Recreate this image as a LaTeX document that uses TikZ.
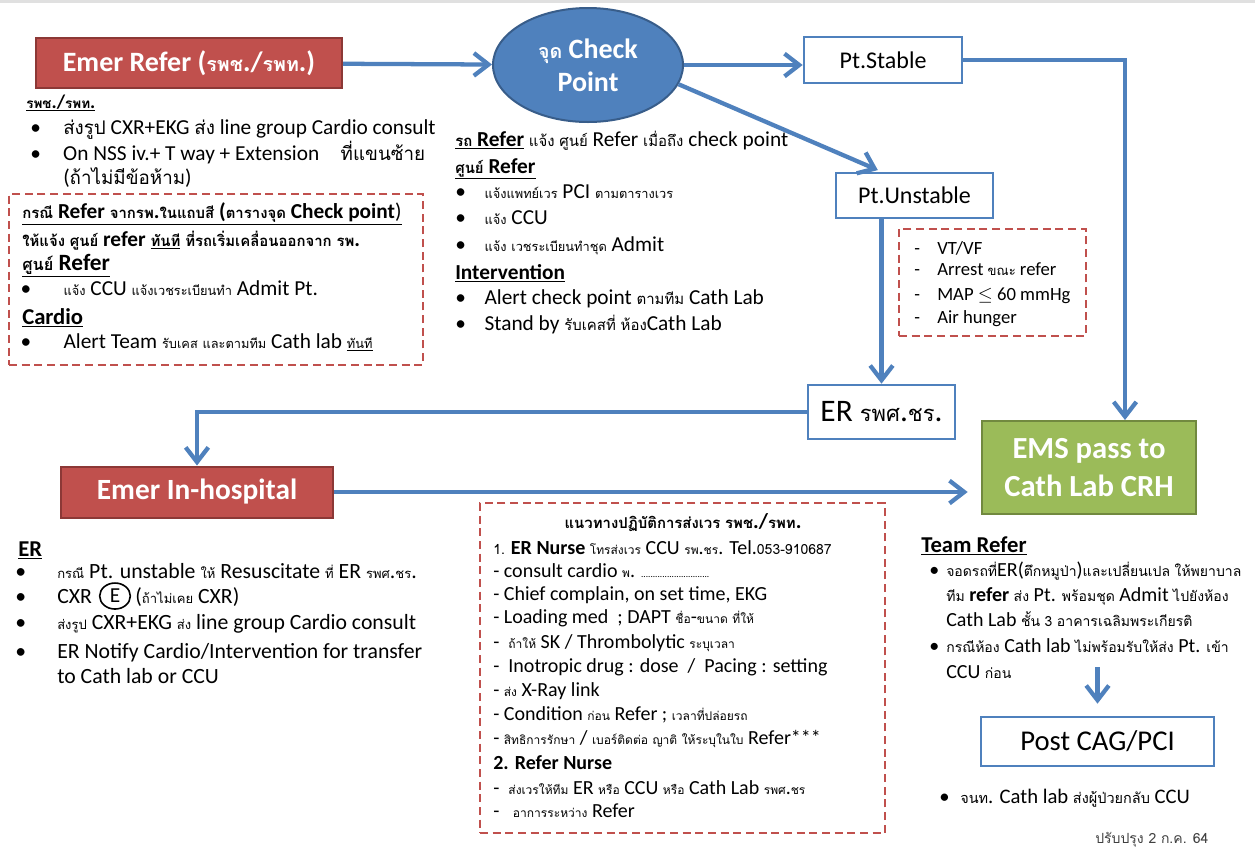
\documentclass[tikz,border=0pt]{standalone}
\usepackage{fontspec}
\setmainfont{Carlito}
\newfontfamily\thaifont[Script=Thai,Scale=0.7]{Loma}
\newfontfamily\thaismall[Script=Thai,Scale=0.6]{Loma}
\newfontfamily\thaibig[Script=Thai,Scale=0.88]{Loma}
\usetikzlibrary{arrows.meta,positioning,shapes.geometric}

\definecolor{accblue}{HTML}{4F81BD}
\definecolor{accbluedk}{HTML}{385D8A}
\definecolor{accred}{HTML}{C0504D}
\definecolor{accreddk}{HTML}{8C3836}
\definecolor{accgreen}{HTML}{9BBB59}
\definecolor{accgreendk}{HTML}{71893F}

% Thai letters switch to Loma by themselves
\let\thaicur\thaifont
\newcommand\usethai[1]{\let\thaicur#1}
\XeTeXinterchartokenstate=1
\newXeTeXintercharclass\thaichars
\newcount\thaicnt
\thaicnt="0E00
\loop\ifnum\thaicnt<"0E80
  \XeTeXcharclass\thaicnt=\thaichars
  \advance\thaicnt by 1
\repeat
\XeTeXinterchartoks 0 \thaichars = {\begingroup\thaicur}
\XeTeXinterchartoks 4095 \thaichars = {\begingroup\thaicur}
\XeTeXinterchartoks \thaichars 0 = {\endgroup}
\XeTeXinterchartoks \thaichars 4095 = {\endgroup}

\newcommand\setfs[2]{\fontsize{#1}{#2}\selectfont\lineskiplimit=-30pt}
\newcommand\bul[1][24.75pt]{\makebox[#1][l]{\textbullet}}
\newcommand\dsh[1][17.25pt]{\makebox[#1][l]{-}}

\begin{document}
\begin{tikzpicture}[x=0.75pt, y=-0.75pt,
    flow/.style={draw=accblue, line width=3.2pt, -{Straight Barb[length=11pt,width=17pt]}},
    redbox/.style={draw=accreddk, fill=accred, line width=1.5pt, text=white, inner sep=0pt, font=\bfseries\setfs{21}{25}},
    greenbox/.style={draw=accgreendk, fill=accgreen, line width=1.5pt, text=white, inner sep=0pt, align=center, font=\bfseries\setfs{23}{29}},
    whitebox/.style={draw=accblue, fill=white, line width=2pt, inner sep=0pt, font=\setfs{18}{20}},
    checkpt/.style={ellipse, draw=accbluedk, fill=accblue, line width=1.5pt, text=white, inner sep=0pt, align=center, font=\bfseries\setfs{21}{24.75}},
    notebox/.style={draw=accred, line width=1.5pt, dash pattern=on 6pt off 3.5pt, inner sep=0pt},
    txt/.style={anchor=base west, align=left, inner sep=0pt, font=\setfs{16}{18.75}}]

    \useasboundingbox[fill=white] (0,0) rectangle (1255,854);
    \fill[black!12] (0,0) rectangle (1255,3);

    % main boxes
    \node[redbox, minimum width=229.5pt, minimum height=37.5pt] (refer) at (189,63) {Emer Refer (รพช./รพท.)};
    \node[checkpt, minimum width=142.5pt, minimum height=85.5pt] (check) at (588,65) {จุด Check\\Point};
    \node[whitebox, minimum width=118.5pt, minimum height=34.5pt] (stable) at (883,60) {Pt.Stable};
    \node[whitebox, minimum width=117.75pt, minimum height=33.75pt] (unstable) at (914.5,195.5) {Pt.Unstable};
    \node[whitebox, minimum width=110.25pt, minimum height=40.5pt, font=\setfs{23.5}{26}] (er) at (881.5,412) {ER รพศ.ชร.};
    \node[greenbox, minimum width=160.5pt, minimum height=69.75pt] (ems) at (1089,467.5) {EMS pass to\\Cath Lab CRH};
    \node[redbox, minimum width=204pt, minimum height=38.25pt, font=\bfseries\setfs{22}{24}] (inhosp) at (197,492) {Emer In-hospital};
    \node[whitebox, minimum width=174.75pt, minimum height=36.75pt, font=\setfs{21.5}{24}] (post) at (1097.5,741.5) {Post CAG/PCI};

    % dashed frames
    \node[notebox, minimum width=310.5pt, minimum height=128.25pt] (referbox) at (216,279.5) {};
    \node[notebox, minimum width=140.25pt, minimum height=80.25pt] (signbox) at (992.5,282.5) {};
    \node[notebox, minimum width=303.75pt, minimum height=247.5pt] (guidebox) at (682.5,668) {};

    % connectors
    \draw[flow] (refer) -- (check);
    \draw[flow] (check.east) -- (check.east -| stable.west);
    \draw[flow, shorten >=3pt] (check.-12) -- (unstable.north -| er.north);
    \draw[flow] (unstable.south -| er.north) -- (er.north);
    \draw[flow] (stable.east) -| ([xshift=27pt]ems.north);
    \draw[flow] (er.west) -| (inhosp.north);
    \draw[flow, shorten >=10pt] (inhosp.east) -- (inhosp.east -| ems.west);
    \coordinate (teamend) at (1097.5,667);
    \draw[flow, shorten >=9pt] (teamend) -- (teamend |- post.north);

    % texts round Emer Refer (multi-line nodes sit on their last baseline)
    \node[txt, font=\setfs{14.5}{15}] (rpshead) at (26,108) {\underline{\textbf{รพช./รพท.}}};
    \node[txt, font=\setfs{16}{19.5}\usethai\thaibig] (rpslist) at (30,184) {\bul ส่งรูป CXR+EKG ส่ง line group Cardio consult\\
        \bul On NSS iv.+ T way + Extension\quad ที่แขนซ้าย\\[-1.5pt]
        \hspace*{24.75pt}(ถ้าไม่มีข้อห้าม)};
    \node[txt] (refernote) at (22,348) {\underline{\textbf{กรณี Refer จากรพ.ในแถบสี (ตารางจุด Check point})}\\[2.25pt]
        \textbf{ให้แจ้ง ศูนย์ refer \underline{ทันที} ที่รถเริ่มเคลื่อนออกจาก รพ.}\\[-0.75pt]
        {\setfs{17.5}{18.75}\underline{\textbf{ศูนย์ Refer}}}\\
        \hspace*{-1.25pt}\bul[32.25pt]\usethai\thaismall แจ้ง CCU แจ้งเวชระเบียนทำ Admit Pt.\\[3pt]
        {\setfs{17}{18.75}\underline{\textbf{Cardio}}}\\[-0.75pt]
        \hspace*{-1.25pt}\bul[32.25pt]\usethai\thaismall Alert Team รับเคส และตามทีม Cath lab \underline{ทันที}};

    % texts under Check Point
    \node[txt, font=\setfs{16}{19.5}] (checknote) at (455,330) {\underline{\textbf{รถ Refer}} แจ้ง ศูนย์ Refer เมื่อถึง check point\\[0.75pt]
        \underline{\textbf{ศูนย์ Refer}}\\[-0.75pt]
        \bul[22pt]\usethai\thaismall แจ้งแพทย์เวร PCI ตามตารางเวร\\
        \bul[22pt]\usethai\thaismall แจ้ง CCU\\[0.75pt]
        \bul[22pt]\usethai\thaismall แจ้ง เวชระเบียนทำชุด Admit\\[1.5pt]
        \underline{\textbf{Intervention}}\\[-0.75pt]
        \bul[22pt]Alert check point ตามทีม Cath Lab\\
        \bul[22pt]Stand by รับเคสที่ ห้องCath Lab};

    \node[txt, font=\setfs{14}{17.25}] (signs) at (914,323) {\dsh VT/VF\\[-1.5pt] \dsh Arrest ขณะ refer\\[1.5pt] \dsh MAP $\leq$ 60 mmHg\\ \dsh Air hunger};

    % texts under Emer In-hospital
    \node[txt, font=\bfseries\setfs{17}{20}] (erhead) at (18,556) {\underline{ER}};
    \node[txt, font=\setfs{16.3}{18.75}\usethai\thaismall] (erline) at (22,578) {\hspace*{-5.25pt}\bul[31.5pt]กรณี Pt. unstable ให้ Resuscitate ที่ ER รพศ.ชร.};
    \node[txt, font=\setfs{16.3}{18.75}] (cxr) at (22,603) {\hspace*{-5.25pt}\bul[31.5pt]CXR};
    \node[ellipse, draw, line width=1.2pt, minimum width=23pt, minimum height=19.5pt, inner sep=0pt, font=\setfs{16}{16}, right=5pt of cxr] (circE) {E};
    \node[txt, font=\setfs{16.3}{18.75}\usethai\thaismall] (cxrnote) at ([xshift=3pt]circE.east |- cxr.base) {(ถ้าไม่เคย CXR)};
    \node[txt, font=\setfs{16.3}{18.75}\usethai\thaismall] (erlist) at (22,683) {\hspace*{-5.25pt}\bul[31.5pt]ส่งรูป CXR+EKG ส่ง line group Cardio consult\\[3pt]
        \hspace*{-5.25pt}\bul[31.5pt]ER Notify Cardio/Intervention for transfer\\
        \hspace*{26.25pt}to Cath lab or CCU};

    % hand-over guide
    \node[anchor=base, inner sep=0pt, font=\bfseries\setfs{16}{16}] (guidetitle) at (683,528) {แนวทางปฏิบัติการส่งเวร รพช./รพท.};
    \node[txt, font=\setfs{15}{18}\usethai\thaismall] (guide) at (493,817) {{\thaifont 1.} \textbf{ER Nurse} โทรส่งเวร CCU รพ.ชร. Tel.{\thaifont 053-910687}\\[-0.75pt]
        - consult cardio พ. {\setfs{7}{8}.............................}\\[-0.75pt]
        - Chief complain, on set time, EKG\\[-0.75pt]
        - Loading med\ \ ; DAPT ชื่อ-ขนาด ที่ให้\\[0.75pt]
        -\ \ ถ้าให้ SK / Thrombolytic ระบุเวลา\\
        -\ \ Inotropic drug : dose\ \ /\ \ Pacing : setting\\
        - ส่ง X-Ray link\\
        - Condition ก่อน Refer ; เวลาที่ปล่อยรถ\\
        - สิทธิการรักษา / เบอร์ติดต่อ ญาติ ให้ระบุในใบ Refer***\\[0.75pt]
        \textbf{2. Refer Nurse}\\[0.75pt]
        -\ \ ส่งเวรให้ทีม ER หรือ CCU หรือ Cath Lab รพศ.ชร\\[-0.75pt]
        -\ \ \ อาการระหว่าง Refer};

    % texts under EMS
    \node[txt, font=\bfseries\setfs{17}{18}] (teamhead) at (921,552) {\underline{Team Refer}};
    \node[txt, font=\setfs{15}{18.75}] (teamlist) at (929,678) {\bul[12.75pt]จอดรถที่ER(ตึกหมูป่า)และเปลี่ยนเปล ให้พยาบาล\\
        \hspace*{12.75pt}ทีม \textbf{refer} ส่ง Pt. พร้อมชุด Admit ไปยังห้อง\\
        \hspace*{12.75pt}Cath Lab ชั้น {\thaifont 3} อาคารเฉลิมพระเกียรติ\\[0.75pt]
        \bul[12.75pt]กรณีห้อง Cath lab ไม่พร้อมรับให้ส่ง Pt. เข้า\\[0.75pt]
        \hspace*{12.75pt}CCU ก่อน};
    \node[txt, font=\setfs{15.5}{18}] (postnote) at (939,803) {\bul[15.75pt]จนท. Cath lab ส่งผู้ป่วยกลับ CCU};
    \node[txt, text=black!75, font=\thaifont\setfs{15}{16}] (revised) at (1095,843) {ปรับปรุง 2 ก.ค. 64};
\end{tikzpicture}
\end{document}
